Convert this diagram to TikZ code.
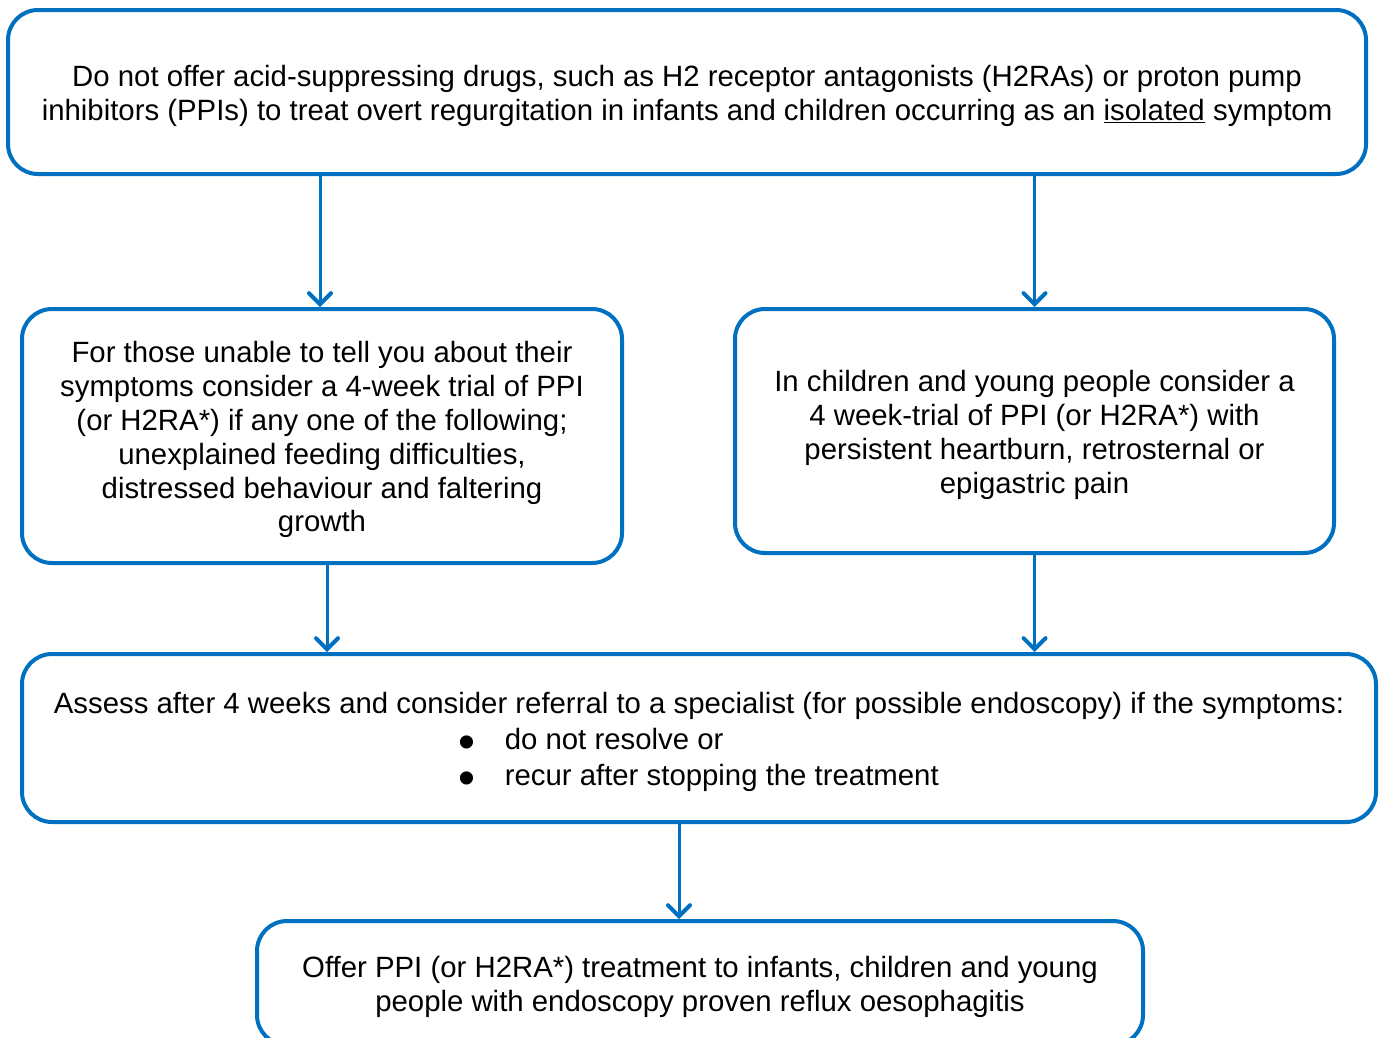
\documentclass[tikz,border=0pt]{standalone}
\usepackage{fontspec}
\setmainfont{Liberation Sans}
\usetikzlibrary{positioning, arrows.meta}
\definecolor{gerdblue}{RGB}{0,112,192}
\newcommand{\firststrut}{\rule{0pt}{29pt}}
\newcommand{\bigbullet}{\smash{\raisebox{-9pt}{\scalebox{1.65}{\textbullet}}}}

\begin{document}
\begin{tikzpicture}[
    x=1pt, y=-1pt,
    box/.style={draw=gerdblue, line width=4pt, rounded corners=30pt,
        align=center, inner sep=0pt,
        font=\fontsize{29.35}{33.8}\selectfont},
    flow/.style={draw=gerdblue, line width=3pt,
        -{Straight Barb[length=11pt,width=22pt,line width=4pt,line cap=round]}}
]
    \useasboundingbox (0,0) rectangle (1380,1037);

    % Boxes
    \node[box, minimum width=1358pt, minimum height=164pt] (top) at (687,92)
        {\firststrut Do not offer acid-suppressing drugs, such as H2 receptor antagonists (H2RAs) or proton pump\\
         inhibitors (PPIs) to treat overt regurgitation in infants and children occurring as an \underline{isolated} symptom};

    \node[box, minimum width=600pt, minimum height=254pt] (infant) at (322,436)
        {\firststrut For those unable to tell you about their\\
         symptoms consider a 4-week trial of PPI\\
         (or H2RA*) if any one of the following;\\
         unexplained feeding difficulties,\\
         distressed behaviour and faltering\\
         growth};

    \node[box, minimum width=599pt, minimum height=244pt] (child) at (1034.5,431)
        {\firststrut In children and young people consider a\\
         4 week-trial of PPI (or H2RA*) with\\
         persistent heartburn, retrosternal or\\
         epigastric pain};

    \node[box, minimum width=1354pt, minimum height=168pt, align=left,
          font=\fontsize{29.35}{36}\selectfont] (assess) at (699,738)
        {\firststrut Assess after 4 weeks and consider referral to a specialist (for possible endoscopy) if the symptoms:\\
         \hspace*{405pt}\bigbullet\hspace{29pt}do not resolve or\\
         \hspace*{405pt}\bigbullet\hspace{29pt}recur after stopping the treatment};

    \node[box, minimum width=886pt, minimum height=124pt] (offer) at (700,983)
        {\firststrut Offer PPI (or H2RA*) treatment to infants, children and young\\
         people with endoscopy proven reflux oesophagitis};

    % Arrows
    \draw[flow] (top.south -| 320,0) -- (infant.north -| 320,0);
    \draw[flow] (top.south -| child.north) -- (child.north);
    \draw[flow] ([xshift=5pt]infant.south) -- ([xshift=5pt]infant.south |- assess.north);
    \draw[flow] (child.south) -- (child.south |- assess.north);
    \draw[flow] ([xshift=-20pt]assess.south) -- ([xshift=-20pt]assess.south |- offer.north);

\end{tikzpicture}
\end{document}
